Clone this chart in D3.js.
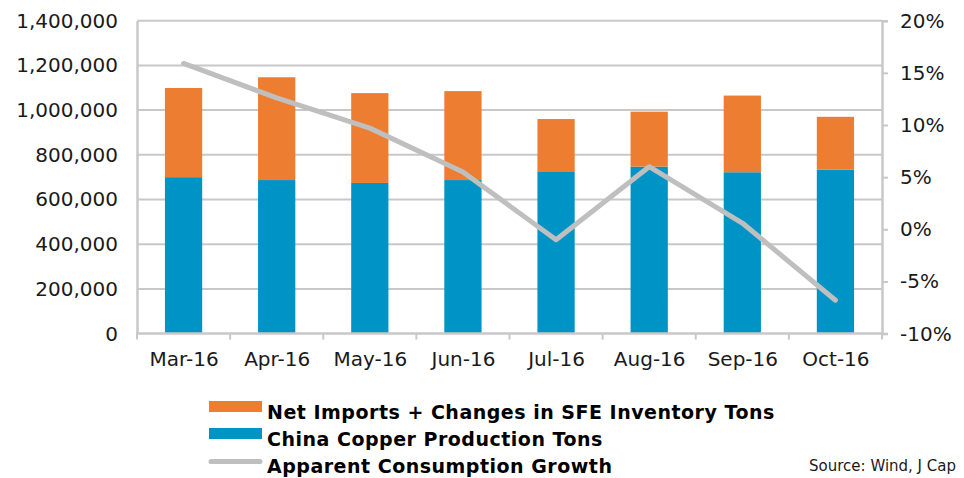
<!DOCTYPE html>
<html>
<head>
<meta charset="utf-8">
<script src="https://cdn.jsdelivr.net/npm/d3@7"></script>
<style>
body { margin: 0; background: #fff; }
text { font-family: "DejaVu Sans", "Noto Sans", sans-serif; fill: #1a1a1a; }
</style>
</head>
<body>
<div id="chart"></div>
<script>
"use strict"

const WIDTH = 964;
const HEIGHT = 478;
const LEFT = 137;
const RIGHT = 882;
const TOP = 20.7;
const BOTTOM = 333.6;

// data
const months = ["Mar-16", "Apr-16", "May-16", "Jun-16", "Jul-16", "Aug-16", "Sep-16", "Oct-16"];
const production = [700000, 687000, 674000, 687000, 723000, 747000, 722000, 734000];
const netImports = [399000, 460000, 402000, 398000, 237000, 246000, 343000, 236000];
const growth = [15.9, 12.6, 9.7, 5.5, -1.0, 6.0, 0.6, -6.8];
const leftTicks = [0, 200000, 400000, 600000, 800000, 1000000, 1200000, 1400000];
const rightTicks = [-10, -5, 0, 5, 10, 15, 20];

const ORANGE = "#ED7D31";
const BLUE = "#0094C6";
const GREY = "#BFBFBF";
const GRID = "#C8C8C8";

var svg = d3.select('#chart')
	.append('svg')
	.attr('width', WIDTH)
	.attr('height', HEIGHT);

var x = d3.scaleBand()
	.domain(months)
	.range([LEFT, RIGHT])
	.paddingInner(0.6)
	.paddingOuter(0.3);

var xPoint = d3.scalePoint()
	.domain(months)
	.range([LEFT, RIGHT])
	.padding(0.5);

var yLeft = d3.scaleLinear().domain([0, 1400000]).range([BOTTOM, TOP]);
var yRight = d3.scaleLinear().domain([-10, 20]).range([BOTTOM, TOP]);

// gridlines
svg.append('g')
	.selectAll('line')
	.data(leftTicks.slice(1))
	.enter()
		.append('line')
		.attr('x1', LEFT)
		.attr('x2', RIGHT)
		.attr('y1', d => yLeft(d))
		.attr('y2', d => yLeft(d))
		.style('stroke', GRID)
		.style('stroke-width', 2);

// bars
var stackData = months.map((m, i) => ({ month: m, production: production[i], net: netImports[i] }));
var stack = d3.stack().keys(['production', 'net'])(stackData);
var colors = { production: BLUE, net: ORANGE };

svg.append('g')
	.selectAll('g')
	.data(stack)
	.enter()
		.append('g')
		.style('fill', d => colors[d.key])
		.selectAll('rect')
		.data(d => d)
		.enter()
			.append('rect')
			.attr('x', d => x(d.data.month))
			.attr('width', x.bandwidth())
			.attr('y', d => yLeft(d[1]))
			.attr('height', d => yLeft(d[0]) - yLeft(d[1]));

// growth line
var line = d3.line()
	.x((d, i) => xPoint(months[i]))
	.y(d => yRight(d));

svg.append('path')
	.datum(growth)
	.attr('d', line)
	.style('fill', 'none')
	.style('stroke', GREY)
	.style('stroke-width', 5)
	.style('stroke-linejoin', 'round')
	.style('stroke-linecap', 'round');

// left axis
var leftAxis = svg.append('g')
	.attr('transform', 'translate(' + LEFT + ',0)')
	.call(d3.axisLeft(yLeft).tickValues(leftTicks).tickSize(0).tickPadding(19).tickFormat(d3.format(',')));
leftAxis.select('.domain').style('stroke', GRID).style('stroke-width', 2.5);
leftAxis.selectAll('text').style('font-size', '20px').style('fill', '#1a1a1a').attr('font-family', null);

// right axis
var rightAxis = svg.append('g')
	.attr('transform', 'translate(' + RIGHT + ',0)')
	.call(d3.axisRight(yRight).tickValues(rightTicks).tickSize(6).tickPadding(12).tickFormat(d => d + '%'));
rightAxis.select('.domain').style('stroke', GRID).style('stroke-width', 2.5);
rightAxis.selectAll('line').style('stroke', GRID).style('stroke-width', 2);
rightAxis.selectAll('text').style('font-size', '20px').style('fill', '#1a1a1a').attr('font-family', null);

// bottom axis
var bottomAxis = svg.append('g')
	.attr('transform', 'translate(0,' + BOTTOM + ')')
	.call(d3.axisBottom(xPoint).tickSize(0).tickPadding(18));
bottomAxis.select('.domain').remove();
bottomAxis.selectAll('text').style('font-size', '20px').style('fill', '#1a1a1a').attr('font-family', null);

svg.append('line')
	.attr('x1', LEFT - 1)
	.attr('x2', RIGHT + 1)
	.attr('y1', BOTTOM)
	.attr('y2', BOTTOM)
	.style('stroke', GRID)
	.style('stroke-width', 2.5);

var step = (RIGHT - LEFT) / months.length;
svg.append('g')
	.selectAll('line')
	.data(d3.range(months.length + 1))
	.enter()
		.append('line')
		.attr('x1', i => LEFT + i * step)
		.attr('x2', i => LEFT + i * step)
		.attr('y1', BOTTOM)
		.attr('y2', BOTTOM + 6)
		.style('stroke', GRID)
		.style('stroke-width', 2);

// legend
const legendItems = [
	{ label: "Net Imports + Changes in SFE Inventory Tons", color: ORANGE, type: 'rect' },
	{ label: "China Copper Production Tons", color: BLUE, type: 'rect' },
	{ label: "Apparent Consumption Growth", color: GREY, type: 'line' }
];

var legend = svg.selectAll('.legend')
	.data(legendItems)
	.enter()
		.append('g')
		.attr('class', 'legend')
		.attr('transform', (d, i) => 'translate(209,' + (419 + i * 27) + ')');

legend.filter(d => d.type == 'rect')
	.append('rect')
	.attr('x', 0)
	.attr('y', -18)
	.attr('width', 53)
	.attr('height', 11)
	.style('fill', d => d.color);

legend.filter(d => d.type == 'line')
	.append('line')
	.attr('x1', 2)
	.attr('x2', 51)
	.attr('y1', -11.5)
	.attr('y2', -11.5)
	.style('stroke', d => d.color)
	.style('stroke-width', 5)
	.style('stroke-linecap', 'round');

legend.append('text')
	.attr('x', 58)
	.attr('y', 0)
	.style('font-size', '19px')
	.style('font-weight', 'bold')
	.style('letter-spacing', '0.5px')
	.style('fill', '#000')
	.text(d => d.label);

svg.append('text')
	.attr('x', 956)
	.attr('y', 471)
	.attr('text-anchor', 'end')
	.style('font-size', '15px')
	.text("Source: Wind, J Cap");
</script>
</body>
</html>
